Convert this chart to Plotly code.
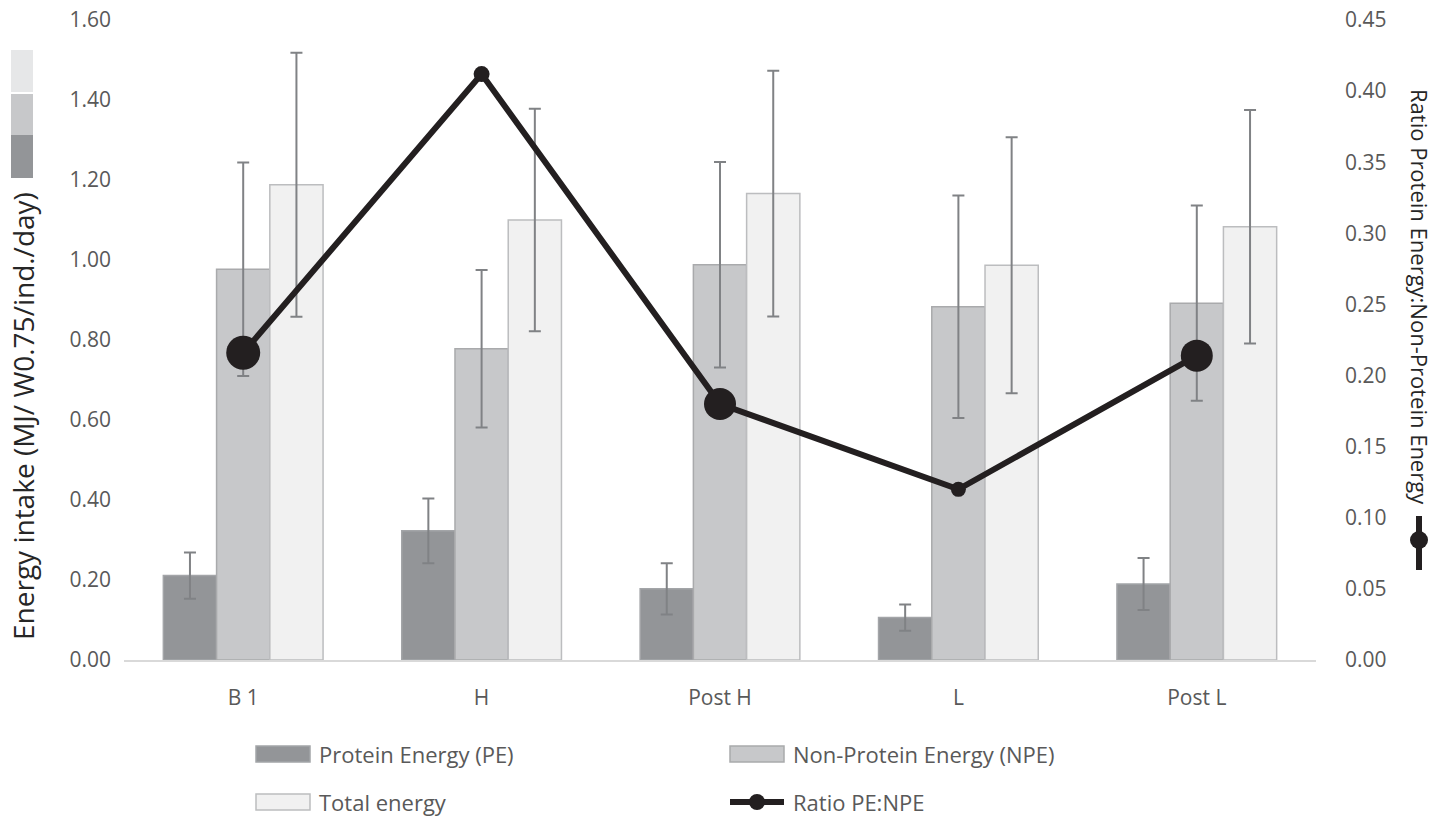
import plotly.graph_objects as go

# ---- data ----
categories = ["B 1", "H", "Post H", "L", "Post L"]
pe = [0.211, 0.323, 0.178, 0.106, 0.190]
pe_err = [0.058, 0.081, 0.064, 0.033, 0.065]
npe = [0.977, 0.778, 0.988, 0.883, 0.892]
npe_err = [0.267, 0.197, 0.257, 0.278, 0.244]
total = [1.188, 1.100, 1.166, 0.987, 1.083]
total_err = [0.330, 0.278, 0.307, 0.320, 0.292]
ratio = [0.216, 0.412, 0.180, 0.120, 0.214]
series_names = ["Protein Energy (PE)", "Non-Protein Energy (NPE)", "Total energy", "Ratio PE:NPE"]
left_title = "Energy intake (MJ/ W0.75/ind./day)"
right_title = "Ratio Protein Energy:Non-Protein Energy"

# ---- styles ----
W, H = 1451, 816
L, R, T, B = 124, 1316, 20, 660
FONT = "Open Sans"
TICK_COL = "#595959"
ERR_COL = "#808285"
fills = ["#939598", "#c7c8ca", "#f1f1f1"]
borders = ["#a3a5a8", "#a9aaac", "#bcbdbf"]
LINE_COL = "#231f20"
ratio_marker_sizes = [34, 16, 32, 15, 32]

def px(x):
    return (x - L) / (R - L)

def py(y):
    return (B - y) / (B - T)

fig = go.Figure()
for vals, errs, name, fc, bc in [
    (pe, pe_err, series_names[0], fills[0], borders[0]),
    (npe, npe_err, series_names[1], fills[1], borders[1]),
    (total, total_err, series_names[2], fills[2], borders[2]),
]:
    fig.add_trace(go.Bar(
        x=categories, y=vals, name=name,
        marker=dict(color=fc, line=dict(color=bc, width=1.5)),
        error_y=dict(type="data", array=errs, visible=True, color=ERR_COL, thickness=2, width=6),
        showlegend=False,
    ))

fig.add_trace(go.Scatter(
    x=categories, y=ratio, name=series_names[3], yaxis="y2", mode="lines+markers",
    line=dict(color=LINE_COL, width=6),
    marker=dict(color=LINE_COL, size=ratio_marker_sizes, opacity=1,
                line=dict(color=LINE_COL, width=0)),
    opacity=1,
    showlegend=False,
))

shapes = []
annotations = []

# manual legend
legend_items = [
    (256, 754, 0), (730, 754, 1), (256, 802, 2), (730, 802, 3)
]
for x0, yc, i in legend_items:
    if i < 3:
        shapes.append(dict(type="rect", xref="paper", yref="paper",
                           x0=px(x0), x1=px(x0 + 54), y0=py(yc - 8), y1=py(yc + 8),
                           fillcolor=fills[i], line=dict(color=borders[i], width=1.5)))
    else:
        shapes.append(dict(type="line", xref="paper", yref="paper",
                           x0=px(x0), x1=px(x0 + 54), y0=py(yc), y1=py(yc),
                           line=dict(color=LINE_COL, width=6)))
        shapes.append(dict(type="circle", xref="paper", yref="paper",
                           x0=px(x0 + 27 - 8), x1=px(x0 + 27 + 8), y0=py(yc - 8), y1=py(yc + 8),
                           fillcolor=LINE_COL, line=dict(color=LINE_COL, width=0)))
    annotations.append(dict(text=series_names[i], xref="paper", yref="paper",
                            x=px(x0 + 61), y=py(yc), xanchor="left", yanchor="middle",
                            showarrow=False, font=dict(family=FONT, size=22, color=TICK_COL)))

# left axis title key swatch
for (y0, y1, c) in [(50, 92, "#e6e7e8"), (94, 135, "#c7c8ca"), (135, 178, "#939598")]:
    shapes.append(dict(type="rect", xref="paper", yref="paper",
                       x0=px(11), x1=px(33), y0=py(y1), y1=py(y0),
                       fillcolor=c, line=dict(width=0)))

# right axis title key symbol
shapes.append(dict(type="line", xref="paper", yref="paper",
                   x0=px(1419), x1=px(1419), y0=py(516), y1=py(570),
                   line=dict(color=LINE_COL, width=6)))
shapes.append(dict(type="circle", xref="paper", yref="paper",
                   x0=px(1410), x1=px(1428), y0=py(549), y1=py(531),
                   fillcolor=LINE_COL, line=dict(width=0)))

annotations.append(dict(text=left_title, xref="paper", yref="paper",
                        x=px(23), y=py(416), textangle=-90, showarrow=False,
                        xanchor="center", yanchor="middle",
                        font=dict(family=FONT, size=28, color="#262626")))
annotations.append(dict(text=right_title, xref="paper", yref="paper",
                        x=px(1420), y=py(297), textangle=90, showarrow=False,
                        xanchor="center", yanchor="middle",
                        font=dict(family=FONT, size=22, color="#262626")))

fig.update_layout(
    width=W, height=H,
    margin=dict(l=L, r=W - R, t=T, b=H - B, autoexpand=False),
    paper_bgcolor="white", plot_bgcolor="white",
    barmode="group", bargap=0.33, bargroupgap=0,
    font=dict(family=FONT, size=21, color=TICK_COL),
    xaxis=dict(showgrid=False, showline=True, linecolor="#d9d9d9", linewidth=1.5,
               ticks="", ticklabelstandoff=18, automargin=False,
               tickfont=dict(size=21, color=TICK_COL)),
    yaxis=dict(range=[0, 1.6], dtick=0.2, tickformat=".2f", showgrid=False, zeroline=False,
               showline=False, ticks="", ticklabelstandoff=12, automargin=False,
               tickfont=dict(size=21, color=TICK_COL)),
    yaxis2=dict(range=[0, 0.45], dtick=0.05, tickformat=".2f", overlaying="y", side="right",
                showgrid=False, zeroline=False, showline=False, ticks="", ticklabelstandoff=28,
                automargin=False, tickfont=dict(size=21, color=TICK_COL)),
    shapes=shapes, annotations=annotations,
    showlegend=False,
)

fig.write_html("out.html", config={"displayModeBar": False},
               post_script="document.body.style.margin='0';document.body.style.padding='0';")
